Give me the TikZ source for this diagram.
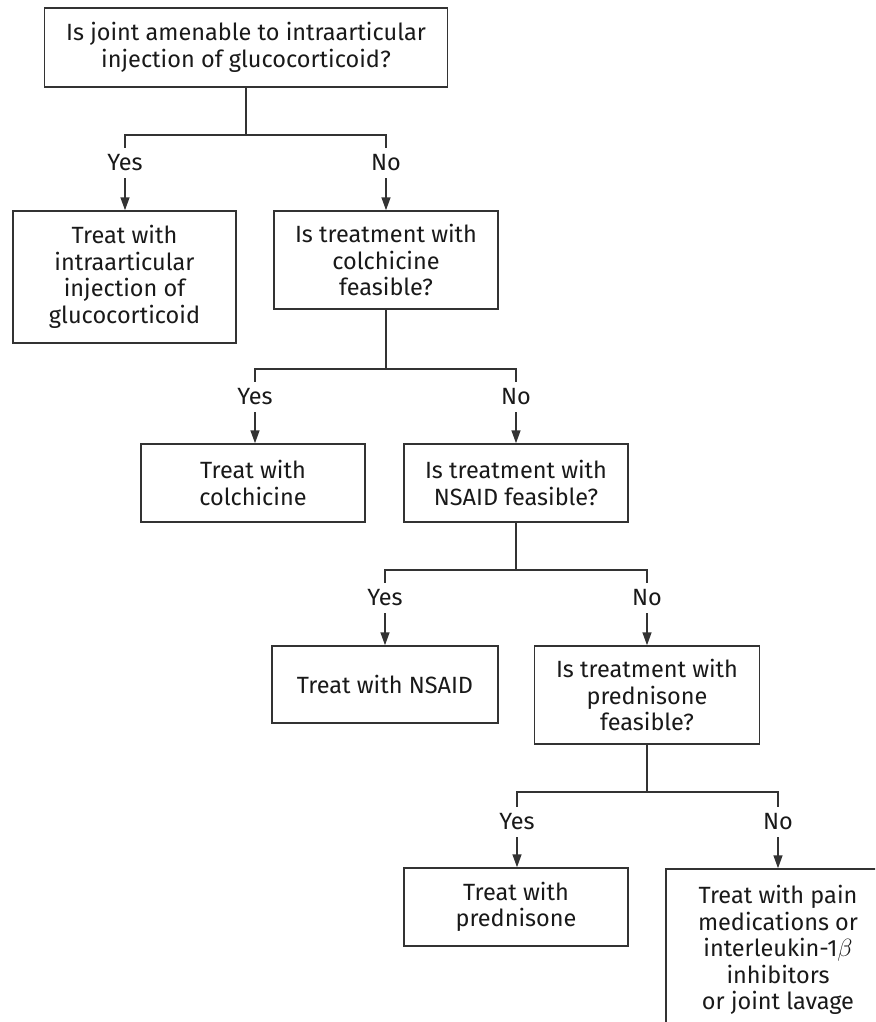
\documentclass[tikz,border=0pt]{standalone}
\usepackage{fontspec}
\setmainfont{Fira Sans}
\usetikzlibrary{arrows.meta}
\begin{document}
\begin{tikzpicture}[x=1pt,y=-1pt,font=\fontsize{23.5}{26.5}\selectfont,
	box/.style={draw=black!80,line width=1.5pt,inner sep=0pt,align=center,text=black!90},
	lbl/.style={inner sep=0pt,minimum height=30pt,text=black!90},
	ln/.style={draw=black!80,line width=1.5pt},
	arr/.style={ln,-{Triangle[width=9pt,length=13pt]}}]
	\useasboundingbox(0,0)rectangle(875,1022);
	\clip(0,0)rectangle(875,1022);
	% questions and treatments
	\node[box,minimum width=403,minimum height=79](q1)at(246,47.5){Is joint amenable to intraarticular\\injection of glucocorticoid?};
	\node[box,minimum width=223,minimum height=132](t1)at(124.5,277){Treat with\\intraarticular\\injection of\\glucocorticoid};
	\node[box,minimum width=224,minimum height=98](q2)at(386,260){Is treatment with\\colchicine\\feasible?};
	\node[box,minimum width=224,minimum height=78](t2)at(253,483){Treat with\\colchicine};
	\node[box,minimum width=224,minimum height=78](q3)at(516,483){Is treatment with\\NSAID feasible?};
	\node[box,minimum width=226,minimum height=77](t3)at(385,684.5){Treat with NSAID};
	\node[box,minimum width=225,minimum height=98](q4)at(647,695){Is treatment with\\prednisone\\feasible?};
	\node[box,minimum width=224,minimum height=78](t4)at(516,907){Treat with\\prednisone};
	\node[box,minimum width=224,minimum height=162](t5)at(778,950){Treat with pain\\medications or\\interleukin-1$\beta$\\inhibitors\\or joint lavage};
	% yes / no labels
	\node[lbl](y1)at(125,163){Yes};
	\node[lbl](n1)at(386,163){No};
	\node[lbl](y2)at(255,397){Yes};
	\node[lbl](n2)at(516,397){No};
	\node[lbl](y3)at(385,598){Yes};
	\node[lbl](n3)at(647,598){No};
	\node[lbl](y4)at(517,822){Yes};
	\node[lbl](n4)at(778,822){No};
	% branch points
	\coordinate(j1)at(q1.south|-0,135);
	\coordinate(j2)at(q2.south|-0,369);
	\coordinate(j3)at(q3.south|-0,570);
	\coordinate(j4)at(q4.south|-0,792);
	\draw[ln](q1.south)--(j1)-|(y1.north);\draw[ln](j1)-|(n1.north);
	\draw[ln](q2.south)--(j2)-|(y2.north);\draw[ln](j2)-|(n2.north);
	\draw[ln](q3.south)--(j3)-|(y3.north);\draw[ln](j3)-|(n3.north);
	\draw[ln](q4.south)--(j4)-|(y4.north);\draw[ln](j4)-|(n4.north);
	\draw[arr](y1.south)--(y1.south|-t1.north);
	\draw[arr](n1.south)--(n1.south|-q2.north);
	\draw[arr](y2.south)--(y2.south|-t2.north);
	\draw[arr](n2.south)--(n2.south|-q3.north);
	\draw[arr](y3.south)--(y3.south|-t3.north);
	\draw[arr](n3.south)--(n3.south|-q4.north);
	\draw[arr](y4.south)--(y4.south|-t4.north);
	\draw[arr](n4.south)--(n4.south|-t5.north);
\end{tikzpicture}
\end{document}
